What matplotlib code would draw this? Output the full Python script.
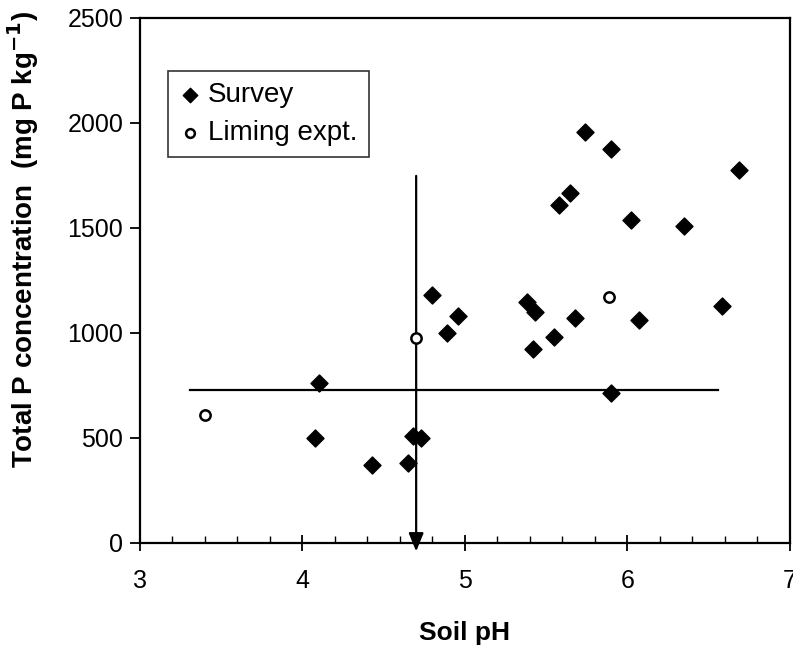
import matplotlib
matplotlib.use('Agg')
from matplotlib import pyplot as plt
from matplotlib.ticker import MultipleLocator

plt.rcParams['font.family'] = ['Liberation Sans', 'DejaVu Sans']

# survey points
survey_ph = [4.10, 4.08, 4.43, 4.65, 4.68, 4.73, 4.80, 4.89, 4.96, 5.38, 5.43, 5.42,
             5.55, 5.58, 5.65, 5.68, 5.74, 5.90, 5.90, 6.02, 6.07, 6.35, 6.58, 6.69]
survey_p = [762, 500, 371, 381, 510, 500, 1181, 1000, 1081, 1148, 1100, 924,
            981, 1610, 1667, 1071, 1957, 1876, 714, 1538, 1062, 1510, 1129, 1776]

# liming experiment
liming_ph = [3.40, 4.70, 5.89]
liming_p = [610, 976, 1171]

# threshold lines
h_line_x = [3.31, 6.56]
h_line_y = 729
v_line_x = 4.70
v_line_top = 1748

fig = plt.figure(figsize=(7.93, 6.52), dpi=100)
ax = fig.add_axes([0.1765, 0.1672, 0.8195, 0.8052])

ax.plot(h_line_x, [h_line_y, h_line_y], color='black', lw=1.6, zorder=2)
ax.annotate('', xy=(v_line_x, -40), xytext=(v_line_x, v_line_top),
            arrowprops=dict(arrowstyle='-|>,head_length=1.1,head_width=0.45',
                            color='black', lw=1.6, shrinkA=0, shrinkB=0),
            annotation_clip=False, zorder=2)

ax.scatter(survey_ph, survey_p, marker='D', s=75, color='black', zorder=3,
           label='Survey')
ax.scatter(liming_ph, liming_p, marker='o', s=55, facecolors='white',
           edgecolors='black', linewidths=1.8, zorder=3, label='Liming expt.')

ax.set_xlim(3, 7)
ax.set_ylim(0, 2500)
ax.xaxis.set_major_locator(MultipleLocator(1))
ax.xaxis.set_minor_locator(MultipleLocator(0.2))
ax.yaxis.set_major_locator(MultipleLocator(500))

ax.tick_params(axis='x', which='major', direction='inout', length=12, width=1.3,
               labelsize=18, pad=13)
ax.tick_params(axis='x', which='minor', direction='in', length=5, width=1.0)
ax.tick_params(axis='y', which='major', direction='out', length=7, width=1.3,
               labelsize=18, pad=5)
for s in ax.spines.values():
    s.set_linewidth(1.6)

ax.set_xlabel('Soil pH', fontsize=19, fontweight='bold', labelpad=20)
ax.set_ylabel('Total P concentration  (mg P kg$^{\\mathbf{-1}}$)', fontsize=20,
              fontweight='bold')
ax.yaxis.set_label_coords(-0.153, 0.579)

leg = ax.legend(loc='upper left', bbox_to_anchor=(0.043, 0.899), fontsize=20,
                frameon=True, fancybox=False, edgecolor='black',
                handletextpad=0.25, handlelength=0.8, borderpad=0.4,
                labelspacing=0.42, borderaxespad=0, markerscale=0.85)
leg.get_frame().set_linewidth(1.2)

plt.savefig('out.png', dpi=100)
